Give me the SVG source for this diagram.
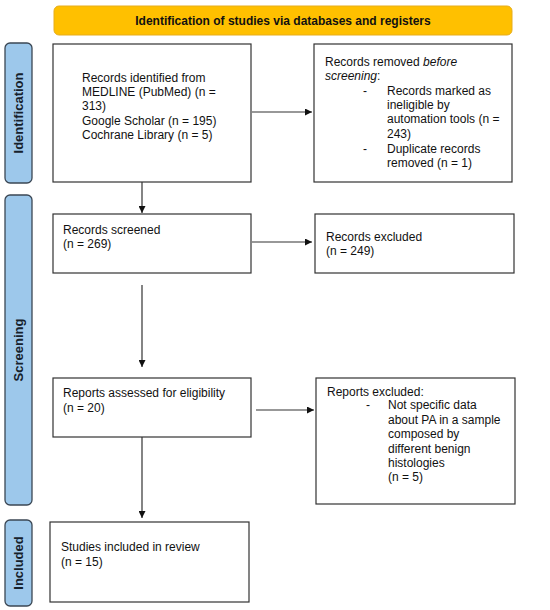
<svg xmlns="http://www.w3.org/2000/svg" width="550" height="610" viewBox="0 0 550 610">
<defs>
<style>
.box{fill:#fff;stroke:#333;stroke-width:1.2}
.side{fill:#9dc8eb;stroke:#3b4754;stroke-width:1.3}
.hdr{fill:#ffc000;stroke:#e6ad1c;stroke-width:1}
.t{font-family:"Liberation Sans",Arial,sans-serif;font-size:12px;fill:#111}
.b{font-family:"Liberation Sans",Arial,sans-serif;font-size:12px;font-weight:bold;fill:#111}
.s{font-family:"Liberation Sans",Arial,sans-serif;font-size:13px;font-weight:bold;fill:#16212c}
.c{fill:none;stroke:#333;stroke-width:1.2}
</style>
<marker id="ah" viewBox="0 0 10 10" refX="10" refY="5" markerWidth="7" markerHeight="7" markerUnits="userSpaceOnUse" orient="auto"><path d="M0,0 L10,5 L0,10 z" fill="#111"/></marker>
</defs>
<rect width="550" height="610" fill="#fff"/>
<g id="header">
<rect class="hdr" x="54" y="6" width="458" height="29" rx="5"/>
<text class="b" x="283" y="25" text-anchor="middle">Identification of studies via databases and registers</text>
</g>
<g id="lane-identification">
<rect class="side" x="5" y="43" width="27" height="140" rx="5"/>
<text class="s" transform="translate(23,113) rotate(-90)" text-anchor="middle">Identification</text>
</g>
<g id="lane-screening">
<rect class="side" x="5" y="195" width="27" height="310" rx="5"/>
<text class="s" transform="translate(23,350) rotate(-90)" text-anchor="middle">Screening</text>
</g>
<g id="lane-included">
<rect class="side" x="5" y="520" width="27" height="86" rx="5"/>
<text class="s" transform="translate(23,563) rotate(-90)" text-anchor="middle">Included</text>
</g>
<g id="records-identified">
<rect class="box" x="53" y="44" width="198" height="138"/>
<text class="t" x="82" y="82">Records identified from</text>
<text class="t" x="82" y="96">MEDLINE (PubMed) (n =</text>
<text class="t" x="82" y="110">313)</text>
<text class="t" x="82" y="125">Google Scholar (n = 195)</text>
<text class="t" x="82" y="139">Cochrane Library (n = 5)</text>
</g>
<g id="records-removed">
<rect class="box" x="314" y="44" width="198" height="138"/>
<text class="t" x="325" y="66">Records removed <tspan font-style="italic">before</tspan></text>
<text class="t" x="325" y="80"><tspan font-style="italic">screening</tspan>:</text>
<text class="t" x="363" y="95">-</text>
<text class="t" x="387" y="95">Records marked as</text>
<text class="t" x="387" y="109">ineligible by</text>
<text class="t" x="387" y="123">automation tools (n =</text>
<text class="t" x="387" y="138">243)</text>
<text class="t" x="363" y="153">-</text>
<text class="t" x="387" y="153">Duplicate records</text>
<text class="t" x="387" y="167">removed (n = 1)</text>
</g>
<g id="records-screened">
<rect class="box" x="53" y="214" width="198" height="59"/>
<text class="t" x="63" y="234">Records screened</text>
<text class="t" x="63" y="248">(n = 269)</text>
</g>
<g id="records-excluded">
<rect class="box" x="315" y="214" width="199" height="59"/>
<text class="t" x="326" y="241">Records excluded</text>
<text class="t" x="326" y="255">(n = 249)</text>
</g>
<g id="reports-assessed">
<rect class="box" x="53" y="378" width="198" height="59"/>
<text class="t" x="63" y="397">Reports assessed for eligibility</text>
<text class="t" x="63" y="412">(n = 20)</text>
</g>
<g id="reports-excluded">
<rect class="box" x="316" y="378" width="199" height="126"/>
<text class="t" x="327" y="396">Reports excluded:</text>
<text class="t" x="366" y="409">-</text>
<text class="t" x="388" y="409">Not specific data</text>
<text class="t" x="388" y="424">about PA in a sample</text>
<text class="t" x="388" y="438">composed by</text>
<text class="t" x="388" y="453">different benign</text>
<text class="t" x="388" y="467">histologies</text>
<text class="t" x="388" y="481">(n = 5)</text>
</g>
<g id="studies-included">
<rect class="box" x="50" y="522" width="199" height="80"/>
<text class="t" x="61" y="551">Studies included in review</text>
<text class="t" x="61" y="566">(n = 15)</text>
</g>
<g id="connectors">
<path class="c" d="M252,112 H312" marker-end="url(#ah)"/>
<path class="c" d="M142,182 V213" marker-end="url(#ah)"/>
<path class="c" d="M252,242 H312" marker-end="url(#ah)"/>
<path class="c" d="M142,285 V367" marker-end="url(#ah)"/>
<path class="c" d="M256,410 H314" marker-end="url(#ah)"/>
<path class="c" d="M142,437 V518" marker-end="url(#ah)"/>
</g>
</svg>
